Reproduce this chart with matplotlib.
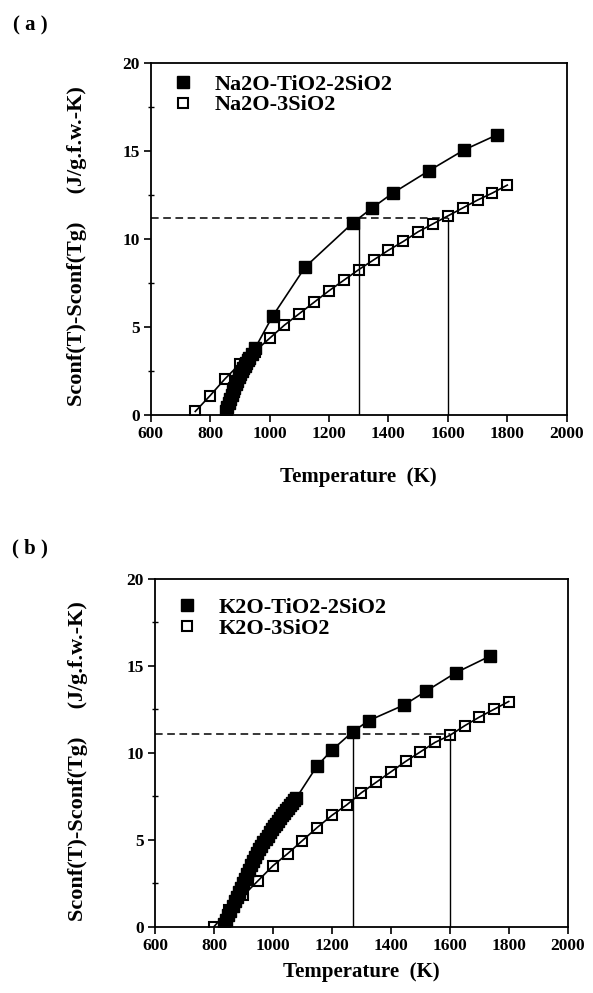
import matplotlib.pyplot as plt
import matplotlib as mpl

mpl.rcParams['font.family'] = ['Liberation Serif', 'DejaVu Serif']
mpl.rcParams['font.weight'] = 'bold'

# ---- panel (a): Na2O systems ----
na_ti_T = [852, 857, 862, 867, 872, 877, 882, 887, 892, 897, 902, 907, 912, 917,
           922, 927, 932, 940, 951, 1010, 1120, 1280, 1345, 1415, 1535, 1655, 1765]
na_ti_S = [0.25, 0.45, 0.68, 0.9, 1.12, 1.35, 1.55, 1.75, 1.95, 2.13, 2.3, 2.48, 2.65, 2.8,
           2.95, 3.1, 3.25, 3.45, 3.78, 5.6, 8.4, 10.9, 11.75, 12.6, 13.85, 15.05, 15.9]
na_si_T = [750, 800, 850, 900, 950, 1000, 1050, 1100, 1150, 1200, 1250, 1300, 1350,
           1400, 1450, 1500, 1550, 1600, 1650, 1700, 1750, 1800]
na_si_S = [0.2, 1.1, 2.05, 2.9, 3.6, 4.35, 5.1, 5.75, 6.4, 7.05, 7.65, 8.25, 8.8,
           9.35, 9.85, 10.4, 10.85, 11.3, 11.75, 12.2, 12.6, 13.05]
na_level = 11.2
na_marks = [1300, 1600]

# ---- panel (b): K2O systems ----
k_ti_T = [835, 842, 849, 856, 863, 870, 877, 884, 891, 898, 905, 912, 919, 926, 933,
          940, 947, 954, 961, 968, 975, 982, 989, 996, 1003, 1010, 1017, 1024, 1031,
          1038, 1045, 1052, 1059, 1066, 1073, 1080,
          1150, 1200, 1270, 1325, 1445, 1520, 1620, 1735]
k_ti_S = [0.15, 0.4, 0.65, 0.9, 1.2, 1.45, 1.72, 1.98, 2.25, 2.5, 2.76, 3.02, 3.28, 3.53, 3.78,
          4.0, 4.22, 4.44, 4.65, 4.86, 5.05, 5.24, 5.42, 5.6, 5.77, 5.93, 6.09, 6.25, 6.4,
          6.55, 6.7, 6.85, 6.99, 7.13, 7.27, 7.42,
          9.25, 10.15, 11.2, 11.85, 12.75, 13.55, 14.6, 15.55]
k_si_T = [800, 850, 900, 950, 1000, 1050, 1100, 1150, 1200, 1250, 1300, 1350, 1400,
          1450, 1500, 1550, 1600, 1650, 1700, 1750, 1800]
k_si_S = [0.0, 0.95, 1.8, 2.65, 3.5, 4.2, 4.95, 5.7, 6.4, 7.0, 7.7, 8.3, 8.9,
          9.5, 10.05, 10.6, 11.0, 11.55, 12.05, 12.5, 12.95]
k_level = 11.1
k_marks = [1270, 1600]

x_ticks = [600, 800, 1000, 1200, 1400, 1600, 1800, 2000]
y_ticks = [0, 5, 10, 15, 20]
ylabel = 'Sconf(T)-Sconf(Tg)     (J/g.f.w.-K)'

fig = plt.figure(figsize=(5.93, 9.93), dpi=100)
ax_a = fig.add_axes([0.2541, 0.5821, 0.7016, 0.3548])
ax_b = fig.add_axes([0.2614, 0.0668, 0.6959, 0.3502])


def draw(ax, tiT, tiS, siT, siS, level, marks, names, xpad, leg_y, ylab_x, ylab_y):
    # reference lines first so markers sit on top
    ax.plot([600, marks[1]], [level, level], color='black', lw=1.1, ls=(0, (5, 3)), zorder=1)
    for m in marks:
        ax.plot([m, m], [0, level], color='black', lw=1.0, zorder=1)
    ax.plot(tiT, tiS, color='black', lw=1.2, marker='s', ms=8, mfc='black',
            mec='black', label=names[0], zorder=3)
    ax.plot(siT, siS, color='black', lw=1.2, marker='s', ms=7.5, mfc='none',
            mec='black', mew=1.5, label=names[1], zorder=3)
    ax.set_xlim(600, 2000)
    ax.set_ylim(0, 20)
    ax.set_xticks(x_ticks)
    ax.set_xticklabels([str(t) for t in x_ticks], fontsize=12.5, fontweight='bold')
    ax.set_yticks(y_ticks)
    ax.set_yticklabels([str(t) for t in y_ticks], fontsize=12.5, fontweight='bold')
    ax.set_yticks([2.5, 7.5, 12.5, 17.5], minor=True)
    ax.tick_params(axis='both', which='major', direction='out', length=5, width=1.2, pad=3)
    ax.tick_params(axis='y', which='minor', direction='inout', length=5, width=1.0)
    for s in ax.spines.values():
        s.set_linewidth(1.3)
    ax.set_xlabel('Temperature  (K)', fontsize=15, fontweight='bold', labelpad=xpad)
    ax.set_ylabel(ylabel, fontsize=16, fontweight='bold')
    ax.yaxis.label.set_verticalalignment('center')
    ax.yaxis.set_label_coords(ylab_x, ylab_y)
    leg = ax.legend(loc='upper left', bbox_to_anchor=(0.03, leg_y), frameon=False,
                    fontsize=16, handlelength=0.6, handletextpad=1.1, labelspacing=0.0,
                    borderaxespad=0.2)
    for h in leg.legend_handles:
        h.set_linestyle('none')
    for t in leg.get_texts():
        t.set_fontweight('bold')


draw(ax_a, na_ti_T, na_ti_S, na_si_T, na_si_S, na_level, na_marks,
     ['Na2O-TiO2-2SiO2', 'Na2O-3SiO2'], 18, 1.005, -0.177, 0.48)
draw(ax_b, k_ti_T, k_ti_S, k_si_T, k_si_S, k_level, k_marks,
     ['K2O-TiO2-2SiO2', 'K2O-3SiO2'], 6, 0.985, -0.187, 0.477)

fig.text(30 / 593, 1 - 25 / 993, '( a )', fontsize=15, fontweight='bold', ha='center', va='center')
fig.text(30 / 593, 1 - 548 / 993, '( b )', fontsize=15, fontweight='bold', ha='center', va='center')

fig.savefig('out.png', dpi=100)
